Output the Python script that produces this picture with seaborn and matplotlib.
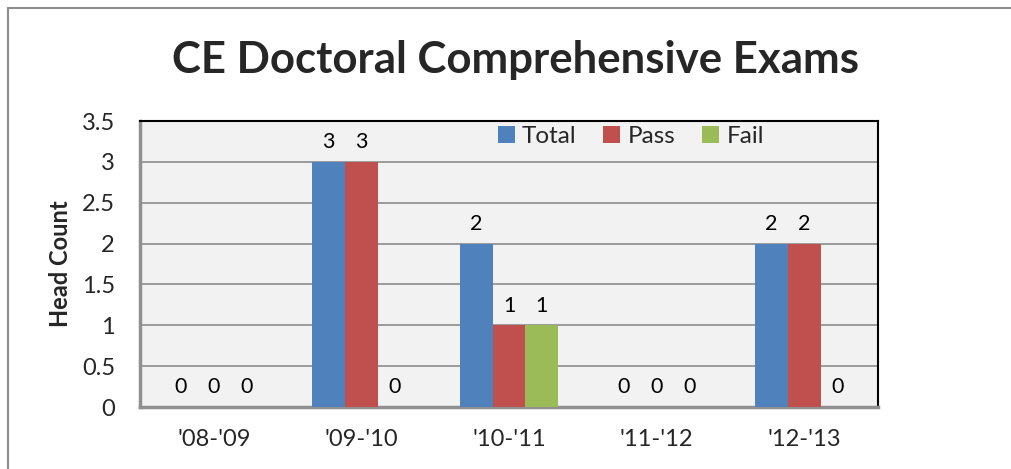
import matplotlib
matplotlib.use("Agg")
import matplotlib.pyplot as plt
import seaborn as sns
import pandas as pd
from matplotlib.lines import Line2D

categories = ["'08-'09", "'09-'10", "'10-'11", "'11-'12", "'12-'13"]
total = [0, 3, 2, 0, 2]
passed = [0, 3, 1, 0, 2]
failed = [0, 0, 1, 0, 0]
series = ["Total", "Pass", "Fail"]
colors = ["#4F81BD", "#C0504D", "#9BBB59"]

rows = []
for name, vals in zip(series, [total, passed, failed]):
    for c, v in zip(categories, vals):
        rows.append({"Year": c, "Series": name, "Count": v})
df = pd.DataFrame(rows)

sns.set_theme(style="white")
plt.rcParams['font.family'] = ['Lato', 'DejaVu Sans']

fig = plt.figure(figsize=(10.11, 4.69), dpi=100)
ax = fig.add_axes([140/1011, 1 - 407/469, 738/1011, 286/469])
ax.set_facecolor("#F2F2F2")

sns.barplot(data=df, x="Year", y="Count", hue="Series", order=categories,
            hue_order=series, palette=colors, width=0.67, saturation=1,
            edgecolor="none", linewidth=0, ax=ax, zorder=3)

ax.set_ylim(0, 3.5)
ax.set_yticks([0, 0.5, 1, 1.5, 2, 2.5, 3, 3.5])
ax.set_yticklabels(["0", "0.5", "1", "1.5", "2", "2.5", "3", "3.5"])
ax.yaxis.grid(True, color="#8C8C8C", linewidth=1.2, zorder=0)
ax.set_axisbelow(True)
ax.tick_params(axis="y", labelsize=17, pad=18, length=0)
ax.tick_params(axis="x", labelsize=17, pad=16, length=0)
ax.set_xlabel("")
ax.set_ylabel("Head Count", fontsize=17, fontweight="bold", labelpad=7)

for s in ["top", "right"]:
    ax.spines[s].set_color("black")
    ax.spines[s].set_linewidth(1.5)
for s in ["left", "bottom"]:
    ax.spines[s].set_color("#909090")
    ax.spines[s].set_linewidth(2.5)

for cont in ax.containers:
    ax.bar_label(cont, fmt="%d", padding=7, fontsize=15.5, color="black")

ax.legend(loc="upper center", bbox_to_anchor=(0.665, 1.06), ncol=3,
          frameon=False, fontsize=17.5, handlelength=0.7, handleheight=0.7,
          handletextpad=0.3, columnspacing=1.1)

fig.text(515/1011, 1 - 60/469, "CE Doctoral Comprehensive Exams",
         ha="center", va="center", fontsize=31.5, fontweight="bold")

y_top = 1 - 8/469
x_left = 8/1011
fig.lines.append(Line2D([x_left, 1.0], [y_top, y_top], transform=fig.transFigure,
                        color="#8C8C8C", linewidth=1.5))
fig.lines.append(Line2D([x_left, x_left], [0.0, y_top], transform=fig.transFigure,
                        color="#8C8C8C", linewidth=1.5))

fig.savefig("out.png", dpi=100)
